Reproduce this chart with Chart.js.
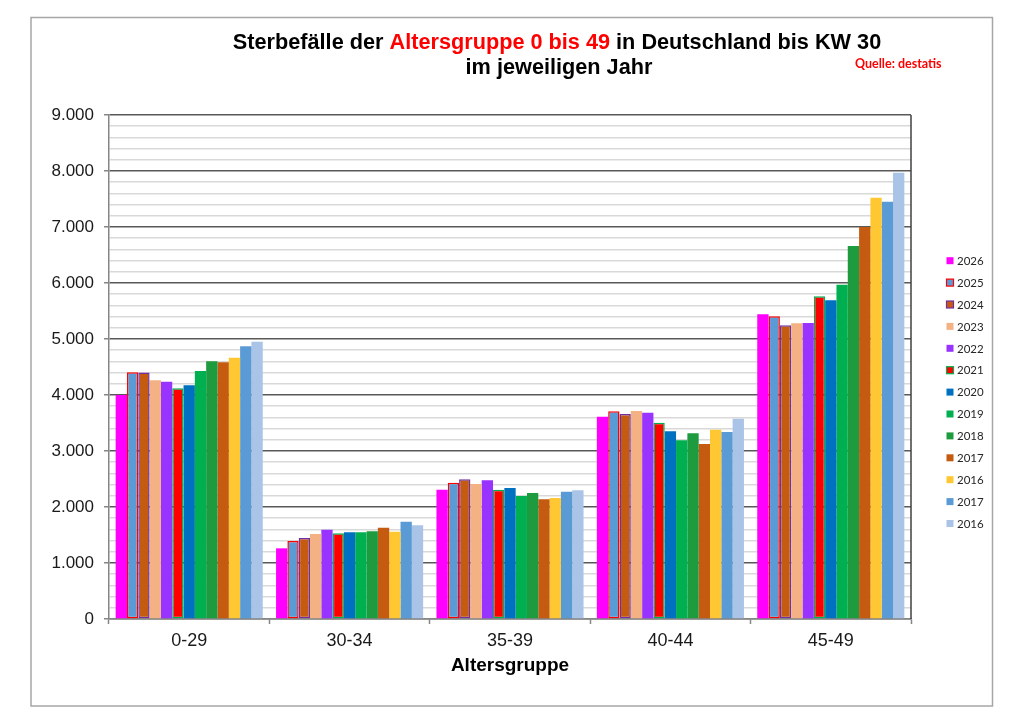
<!DOCTYPE html>
<html>
<head>
<meta charset="utf-8">
<title>Sterbefälle Altersgruppe 0 bis 49</title>
<script src="https://cdn.jsdelivr.net/npm/chart.js@4.4.1/dist/chart.umd.min.js"></script>
<style>
  html, body { margin: 0; padding: 0; background: #fff; }
  canvas { display: block; }
</style>
</head>
<body>
<canvas id="chart" width="1024" height="724"></canvas>
<script>
'use strict';

// Altersgruppen (x-Achse)
var categories = ['0-29', '30-34', '35-39', '40-44', '45-49'];

// Jahre in der Reihenfolge der Legende
var years = ['2026', '2025', '2024', '2023', '2022', '2021', '2020', '2019', '2018', '2017', '2016', '2017', '2016'];

// Sterbefälle je Altersgruppe
var y2026  = [4000, 1262, 2309, 3613, 5440];
var y2025  = [4405, 1393, 2434, 3708, 5405];
var y2024  = [4400, 1446, 2494, 3661, 5244];
var y2023  = [4262, 1518, 2411, 3714, 5280];
var y2022  = [4238, 1595, 2476, 3684, 5286];
var y2021  = [4120, 1530, 2309, 3506, 5762];
var y2020  = [4173, 1548, 2339, 3351, 5690];
var y2019  = [4428, 1548, 2196, 3190, 5970];
var y2018  = [4601, 1566, 2250, 3316, 6661];
var y2017  = [4583, 1631, 2137, 3125, 7000];
var y2016  = [4666, 1560, 2161, 3381, 7524];
var y2017b = [4869, 1738, 2274, 3339, 7452];
var y2016b = [4952, 1673, 2298, 3577, 7970];

var seriesValues = [y2026, y2025, y2024, y2023, y2022, y2021, y2020, y2019, y2018, y2017, y2016, y2017b, y2016b];

var fillColors   = ['#FF00FF', '#5B9BD5', '#C55A11', '#F4B183', '#9933FF', '#FF0000', '#0070C0', '#00B050', '#1E9B3E', '#C55A11', '#FFC832', '#5B9BD5', '#A9C4E6'];
var borderColors = ['#FF00FF', '#FF0000', '#7030A0', '#F4B183', '#9933FF', '#00B050', '#0070C0', '#00B050', '#1E9B3E', '#C55A11', '#FFC832', '#5B9BD5', '#A9C4E6'];
var borderWidths = [0, 1.5, 1.5, 0, 0, 1.5, 0, 0, 0, 0, 0, 0, 0];

function fmt(v) {
   return String(v).replace(/\B(?=(\d{3})+(?!\d))/g, '.');
}

var datasets = years.map(function (y, i) {
   return {
      label: y,
      data: seriesValues[i],
      backgroundColor: fillColors[i],
      borderColor: borderColors[i],
      borderWidth: borderWidths[i],
      borderSkipped: false,
      categoryPercentage: 0.917,
      barPercentage: 1.0
   };
});

// Rahmen, Titel, Quelle und Legende
var decor = {
   id: 'decor',
   afterDraw: function (chart) {
      var ctx = chart.ctx;
      var a = chart.chartArea;
      ctx.save();

      // äußerer Rahmen
      ctx.strokeStyle = '#A6A6A6';
      ctx.lineWidth = 1.5;
      ctx.strokeRect(31, 17.5, 961.5, 688.5);

      // rechte Kante der Zeichenfläche
      ctx.strokeStyle = '#404040';
      ctx.lineWidth = 1.5;
      ctx.beginPath();
      ctx.moveTo(a.right, a.top);
      ctx.lineTo(a.right, a.bottom);
      ctx.stroke();

      // Titel, zweifarbig
      ctx.font = 'bold 21.7px "Liberation Sans", Arial, sans-serif';
      ctx.textBaseline = 'alphabetic';
      ctx.textAlign = 'left';
      var parts = [
         ['Sterbefälle der ', '#000000'],
         ['Altersgruppe 0 bis 49', '#FF0000'],
         [' in Deutschland bis KW 30', '#000000']
      ];
      var total = 0;
      parts.forEach(function (p) { total += ctx.measureText(p[0]).width; });
      var x = 557 - total / 2;
      parts.forEach(function (p) {
         ctx.fillStyle = p[1];
         ctx.fillText(p[0], x, 48.5);
         x += ctx.measureText(p[0]).width;
      });
      ctx.textAlign = 'center';
      ctx.fillStyle = '#000000';
      ctx.fillText('im jeweiligen Jahr', 559, 73.5);

      // Quelle
      ctx.font = 'bold 12.5px Lato, "Noto Sans", sans-serif';
      ctx.textAlign = 'left';
      ctx.fillStyle = '#FF0000';
      ctx.fillText('Quelle: destatis', 855, 67.5);

      // Legende
      ctx.font = '11.5px Lato, "Noto Sans", sans-serif';
      ctx.textBaseline = 'middle';
      chart.data.datasets.forEach(function (ds, i) {
         var ly = 260.7 + i * 21.9;
         ctx.fillStyle = ds.backgroundColor;
         ctx.fillRect(946.5, ly - 3.5, 7, 7);
         if (ds.borderWidth > 0) {
            ctx.strokeStyle = ds.borderColor;
            ctx.lineWidth = 1.2;
            ctx.strokeRect(946.5, ly - 3.5, 7, 7);
         }
         ctx.fillStyle = '#262626';
         ctx.fillText(ds.label, 957, ly + 0.5);
      });

      ctx.restore();
   }
};

var chart = new Chart(document.getElementById('chart').getContext('2d'), {
   type: 'bar',
   data: {
      labels: categories,
      datasets: datasets
   },
   options: {
      responsive: false,
      animation: false,
      devicePixelRatio: 1,
      layout: {
         padding: { left: 31, top: 115, right: 113, bottom: 43 }
      },
      plugins: {
         legend: { display: false },
         title: { display: false },
         tooltip: { enabled: false }
      },
      scales: {
         x: {
            afterFit: function (s) { s.height = 62; },
            grid: {
               display: true,
               drawOnChartArea: false,
               drawTicks: true,
               tickLength: 5,
               tickColor: '#868686',
               tickWidth: 1.5
            },
            border: { color: '#868686', width: 1.5 },
            ticks: {
               padding: 6,
               color: '#1a1a1a',
               font: { family: '"Liberation Sans", Arial, sans-serif', size: 18 }
            },
            title: {
               display: true,
               text: 'Altersgruppe',
               color: '#000000',
               padding: { top: 0, bottom: 4 },
               font: { family: '"Liberation Sans", Arial, sans-serif', size: 19, weight: 'bold' }
            }
         },
         y: {
            min: 0,
            max: 9000,
            afterFit: function (s) { s.width = 78; },
            grid: {
               color: function (c) { return c.tick && c.tick.value % 1000 === 0 ? '#595959' : '#D9D9D9'; },
               lineWidth: 1.5,
               tickLength: 5,
               tickColor: function (c) { return c.tick && c.tick.value % 1000 === 0 ? '#868686' : 'rgba(0,0,0,0)'; },
               tickWidth: 1.5
            },
            border: { color: '#868686', width: 1.5 },
            ticks: {
               stepSize: 200,
               autoSkip: false,
               padding: 10,
               color: '#1a1a1a',
               font: { family: '"Liberation Sans", Arial, sans-serif', size: 17 },
               callback: function (v) { return v % 1000 === 0 ? fmt(v) : ''; }
            }
         }
      }
   },
   plugins: [decor]
});
</script>
</body>
</html>
